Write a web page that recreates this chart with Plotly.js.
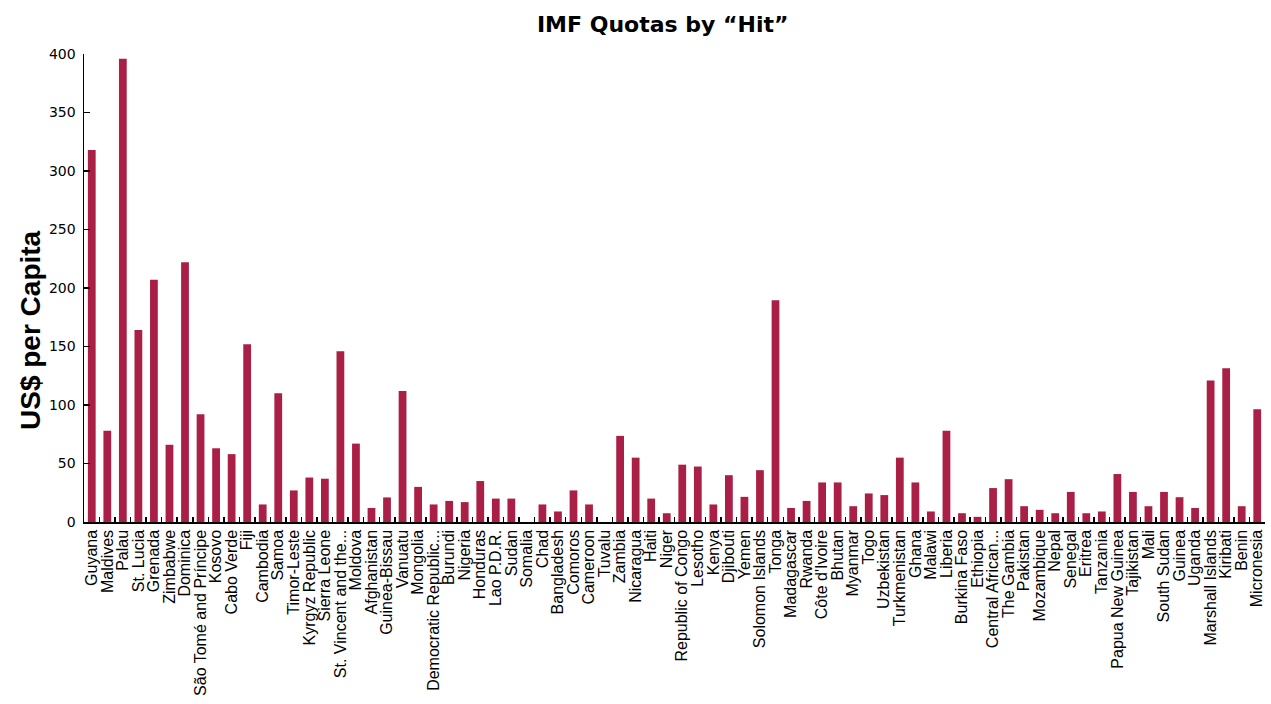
<!DOCTYPE html>
<html>
<head>
<meta charset="utf-8">
<script src="https://cdn.plot.ly/plotly-3.0.1.min.js"></script>
<style>html,body{margin:0;padding:0;background:#fff;}#chart{width:1271px;height:704px;}</style>
</head>
<body>
<div id="chart"></div>
<script>
const countries = [
  "Guyana","Maldives","Palau","St. Lucia","Grenada","Zimbabwe","Dominica","São Tomé and Príncipe","Kosovo","Cabo Verde",
  "Fiji","Cambodia","Samoa","Timor-Leste","Kyrgyz Republic","Sierra Leone","St. Vincent and the...","Moldova","Afghanistan","Guinea-Bissau",
  "Vanuatu","Mongolia","Democratic Republic...","Burundi","Nigeria","Honduras","Lao P.D.R.","Sudan","Somalia","Chad",
  "Bangladesh","Comoros","Cameroon","Tuvalu","Zambia","Nicaragua","Haiti","Niger","Republic of Congo","Lesotho",
  "Kenya","Djibouti","Yemen","Solomon Islands","Tonga","Madagascar","Rwanda","Côte d'Ivoire","Bhutan","Myanmar",
  "Togo","Uzbekistan","Turkmenistan","Ghana","Malawi","Liberia","Burkina Faso","Ethiopia","Central African...","The Gambia",
  "Pakistan","Mozambique","Nepal","Senegal","Eritrea","Tanzania","Papua New Guinea","Tajikistan","Mali","South Sudan",
  "Guinea","Uganda","Marshall Islands","Kiribati","Benin","Micronesia"
];
const quotaPerCapita = [
  318, 78, 396, 164, 207, 66, 222, 92, 63, 58,
  152, 15, 110, 27, 38, 37, 146, 67, 12, 21,
  112, 30, 15, 18, 17, 35, 20, 20, 0, 15,
  9, 27, 15, 0, 73.6, 55, 20, 7.5, 49, 47.4,
  15, 40, 21.5, 44.3, 189.6, 12, 18, 33.8, 33.8, 13.5,
  24.4, 23, 55, 33.8, 9, 78, 7.5, 4.4, 29, 36.6,
  13.5, 10.4, 7.5, 25.7, 7.5, 9, 41, 25.7, 13.5, 25.7,
  21.2, 12, 121, 131.5, 13.5, 96.4
];
const yTicks = [0, 50, 100, 150, 200, 250, 300, 350, 400];
const yTitle = "US$ per Capita";

const trace = {
  type: "bar",
  x: countries,
  y: quotaPerCapita,
  marker: {color: "#A91F45", line: {width: 0}},
  hoverinfo: "x+y"
};

const layout = {
  width: 1271,
  height: 704,
  paper_bgcolor: "#ffffff",
  plot_bgcolor: "#ffffff",
  margin: {l: 84, r: 6, t: 54, b: 182, pad: 0},
  bargap: 0.5,
  showlegend: false,
  title: {
    text: "<b>IMF Quotas by “Hit”</b>",
    font: {family: "DejaVu Sans", size: 22, color: "#000"},
    x: 0.490, xanchor: "center", xref: "paper",
    y: 1 - 24/704, yref: "container", yanchor: "middle"
  },
  xaxis: {
    type: "category",
    tickmode: "linear", tick0: 0, dtick: 1,
    tickangle: -90,
    tickson: "boundaries",
    ticks: "inside", ticklen: 5, tickwidth: 1.5, tickcolor: "#000",
    showline: true, linecolor: "#000", linewidth: 1.5,
    showgrid: false, zeroline: false,
    tickfont: {family: "Liberation Sans, Arial, sans-serif", size: 16, color: "#000"},
    automargin: false
  },
  yaxis: {
    range: [0, 400],
    tickmode: "array", tickvals: yTicks, ticktext: yTicks.map(String),
    ticks: "inside", ticklen: 6, tickwidth: 1.5, tickcolor: "#000",
    showline: true, linecolor: "#000", linewidth: 1.5,
    showgrid: false, zeroline: false,
    tickfont: {family: "DejaVu Sans", size: 14, color: "#000"},
    ticklabelstandoff: 4,
    automargin: false
  },
  annotations: [{
    text: "<b>" + yTitle + "</b>",
    xref: "paper", yref: "paper",
    x: (30 - 84) / 1181, y: (522 - 330) / 468,
    xanchor: "center", yanchor: "middle",
    textangle: -90, showarrow: false,
    font: {family: "Liberation Sans, Arial, sans-serif", size: 28, color: "#000"}
  }]
};

Plotly.newPlot("chart", [trace], layout, {displayModeBar: false, staticPlot: true});
</script>
</body>
</html>
